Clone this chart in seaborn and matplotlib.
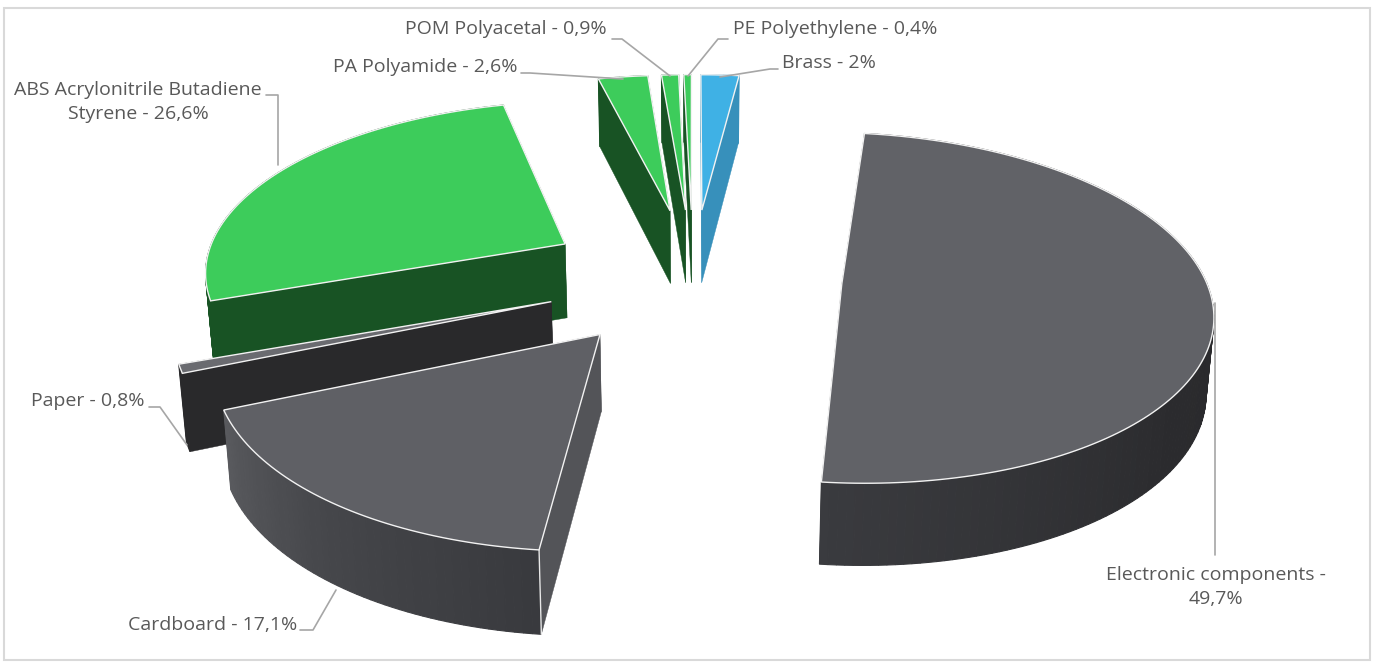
import numpy as np
import matplotlib
matplotlib.use("Agg")
from matplotlib import pyplot as plt
from matplotlib.patches import Rectangle
import seaborn as sns

# slices clockwise from the top, same order as the source chart
names = ["Brass", "Electronic components", "Cardboard", "Paper",
         "ABS Acrylonitrile Butadiene Styrene", "PA Polyamide",
         "POM Polyacetal", "PE Polyethylene"]
values = [2.0, 49.7, 17.1, 0.8, 26.6, 2.6, 0.9, 0.4]
groups = ["metal", "electronic", "cardboard", "paper", "plastic", "plastic", "plastic", "plastic"]

# top colour, arc wall shades along the slice, flat wall
top_col = {"metal": "#3fb1e5", "electronic": "#616267", "cardboard": "#5f6065",
           "paper": "#6a6b70", "plastic": "#3dcc5b"}
wall_cols = {"metal": ["#3790bb", "#3790bb"],
             "electronic": ["#262628", "#28282a", "#2b2b2e", "#3a3b3f"],
             "cardboard": ["#393a3e", "#45464a", "#5a5b5f"],
             "paper": ["#29292b", "#29292b"],
             "plastic": ["#185324", "#185324"]}
flat_col = {"metal": "#3790bb", "electronic": "#29292c", "cardboard": "#535458",
            "paper": "#29292b", "plastic": "#185324"}

# label centre and leader line, in pixels
label_pos = {"Brass": (829, 63), "Electronic components": (1216, 587), "Cardboard": (213, 625),
             "Paper": (88, 401), "ABS Acrylonitrile Butadiene Styrene": (138, 102),
             "PA Polyamide": (425, 67), "POM Polyacetal": (506, 29), "PE Polyethylene": (835, 29)}
label_wrap = {"Electronic components": "Electronic components -\n{}%",
              "ABS Acrylonitrile Butadiene Styrene": "ABS Acrylonitrile Butadiene\nStyrene - {}%"}
leaders = {"Brass": [(720, 77), (770, 69), (778, 69)],
           "Electronic components": [(1215, 303), (1215, 555)],
           "Cardboard": [(336, 590), (313, 630), (300, 630)],
           "Paper": [(187, 445), (160, 407), (149, 407)],
           "ABS Acrylonitrile Butadiene Styrene": [(278, 165), (278, 95), (266, 95)],
           "PA Polyamide": [(623, 79), (530, 73), (521, 73)],
           "POM Polyacetal": [(670, 76), (622, 39), (612, 39)],
           "PE Polyethylene": [(688, 76), (718, 39), (728, 39)]}

# projection of the tilted pie
cx, cy = 693, 276
rx, ry = 363, 170
persp = 0.135
explode = 0.41
depth = 75


def project(x, y, bottom=False):
    s = 1 / (1 + persp * y)
    px = cx + rx * x * s
    py = cy - ry * y * s
    if bottom:
        px = cx + (px - cx) * 0.985
        py = py + depth * s ** 0.6
    return px, py


sns.set_theme(style="white")
plt.rcParams["font.family"] = ["Open Sans", "DejaVu Sans"]

fig, ax = plt.subplots(figsize=(13.74, 6.66), dpi=100)
fig.subplots_adjust(0, 0, 1, 1)
ax.set_xlim(0, 1374)
ax.set_ylim(666, 0)
ax.axis("off")
ax.add_patch(Rectangle((4, 8), 1366, 652, fill=False, ec="#d9d9d9", lw=1.5))

total = sum(values)
ends = np.cumsum(values) / total * 2 * np.pi
starts = ends - np.array(values) / total * 2 * np.pi

slices = []
for i in range(len(values)):
    mid = (starts[i] + ends[i]) / 2
    ox, oy = explode * np.sin(mid), explode * np.cos(mid)
    slices.append((oy, i, ox))
slices.sort(reverse=True)

for oy, i, ox in slices:
    g = groups[i]
    n = max(int((ends[i] - starts[i]) / 0.02), 2)
    ang = np.linspace(starts[i], ends[i], n)
    arc_x = ox + np.sin(ang)
    arc_y = oy + np.cos(ang)

    # flat walls, far one first
    walls = [(arc_x[0], arc_y[0]), (arc_x[-1], arc_y[-1])]
    walls.sort(key=lambda p: -p[1])
    for wx, wy in walls:
        a = project(ox, oy)
        b = project(wx, wy)
        c = project(wx, wy, True)
        d = project(ox, oy, True)
        ax.fill([a[0], b[0], c[0], d[0]], [a[1], b[1], c[1], d[1]],
                color=flat_col[g], lw=0.3)

    # outer wall as shaded strips
    shades = sns.blend_palette(wall_cols[g], n)
    for j in np.argsort(-(arc_y[:-1] + arc_y[1:])):
        a = project(arc_x[j], arc_y[j])
        b = project(arc_x[j + 1], arc_y[j + 1])
        c = project(arc_x[j + 1], arc_y[j + 1], True)
        d = project(arc_x[j], arc_y[j], True)
        ax.fill([a[0], b[0], c[0], d[0]], [a[1], b[1], c[1], d[1]],
                color=shades[j], lw=0.8)

    # white edge down the front corner of the cardboard slice
    if g == "cardboard":
        e = project(arc_x[0], arc_y[0])
        f = project(arc_x[0], arc_y[0], True)
        ax.plot([e[0], f[0]], [e[1], f[1]], color="#e8e8e8", lw=1.0)

    # top face
    px, py = project(arc_x, arc_y)
    a = project(ox, oy)
    ax.fill(np.r_[a[0], px], np.r_[a[1], py], fc=top_col[g], ec="#f2f2f2", lw=1.0)

for name, val in zip(names, values):
    txt = f"{val:g}".replace(".", ",")
    if name in label_wrap:
        label = label_wrap[name].format(txt)
    else:
        label = f"{name} - {txt}%"
    x, y = label_pos[name]
    ax.text(x, y, label, ha="center", va="center", fontsize=14, color="#595959",
            linespacing=1.45, zorder=5)
    lx, ly = zip(*leaders[name])
    ax.plot(lx, ly, color="#a6a6a6", lw=1.2, zorder=4)

fig.savefig("out.png", dpi=100)
